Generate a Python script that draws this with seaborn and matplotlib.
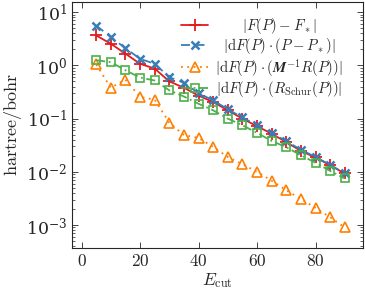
import numpy as np
import pandas as pd
import matplotlib
matplotlib.use("Agg")
import matplotlib.pyplot as plt
import seaborn as sns

sns.set_theme(style="ticks")
plt.rcParams['font.family'] = ['DejaVu Serif']
plt.rcParams['mathtext.fontset'] = 'cm'

# data
ecut = [5, 10, 15, 20, 25, 30, 35, 40, 45, 50, 55, 60, 65, 70, 75, 80, 85, 90]
err_energy = [3.65, 2.55, 1.66, 1.07, 0.87, 0.50, 0.38, 0.27, 0.205, 0.143, 0.100,
              0.072, 0.052, 0.036, 0.0247, 0.0186, 0.0133, 0.0093]
err_exact = [5.6, 3.4, 2.1, 1.33, 1.07, 0.60, 0.47, 0.30, 0.22, 0.15, 0.105,
             0.075, 0.054, 0.0376, 0.026, 0.019, 0.0135, 0.0093]
err_precond = [1.04, 0.38, 0.54, 0.255, 0.227, 0.084, 0.049, 0.0435, 0.0294, 0.019,
               0.0139, 0.0100, 0.0068, 0.0045, 0.0031, 0.0021, 0.0014, 0.0009]
err_schur = [1.25, 1.15, 0.81, 0.59, 0.52, 0.34, 0.26, 0.19, 0.143, 0.100,
             0.075, 0.054, 0.038, 0.029, 0.0205, 0.0148, 0.0104, 0.0075]

labels = [r'$|F(P) - F_*|$',
          r'$|\mathrm{d}F(P)\cdot(P - P_*)|$',
          r'$|\mathrm{d}F(P)\cdot(\boldsymbol{M}^{-1}R(P))|$',
          r'$|\mathrm{d}F(P)\cdot(R_{\mathrm{Schur}}(P))|$']
colors = ['#e41a1c', '#377eb8', '#ff7f00', '#4daf4a']
styles = [dict(ls='-', marker='+', ms=8, mew=1.3),
          dict(ls=(0, (5, 3)), marker='x', ms=6, mew=1.8),
          dict(ls=(0, (1, 2.5)), marker='^', ms=7, mew=1.2, mfc='none'),
          dict(ls=(0, (5, 2, 1, 2)), marker='s', ms=6, mew=1.2, mfc='none')]
series = [err_energy, err_exact, err_precond, err_schur]

fig = plt.figure(figsize=(3.65, 2.91), dpi=100)
ax = fig.add_axes([0.197, 0.148, 0.798, 0.845])

for vals, lab, col, st in zip(series, labels, colors, styles):
    sns.lineplot(x=ecut, y=vals, ax=ax, color=col, label=lab, lw=1.3,
                 mec=col, **st)

ax.set_yscale('log')
ax.set_xlim(-3.3, 96.3)
ax.set_ylim(10**-3.43, 10**1.19)
ax.set_xticks([0, 20, 40, 60, 80])
ax.set_xticklabels([f'${t}$' for t in [0, 20, 40, 60, 80]])
ax.set_xlabel(r'$E_{\mathrm{cut}}$', fontsize=12.5, labelpad=1)
ax.set_ylabel(r'$\mathrm{hartree/bohr}$', fontsize=13, labelpad=1)
ax.tick_params(which='both', direction='in', top=True, right=True, labelsize=12.5)
ax.tick_params(which='major', length=4, width=0.6)
ax.tick_params(which='minor', length=2, width=0.5)
for s in ax.spines.values():
    s.set_linewidth(0.8)

leg = ax.legend(loc='upper right', bbox_to_anchor=(0.965, 0.985), frameon=False,
                fontsize=10.6, handlelength=1.8, labelspacing=0.02,
                borderaxespad=0.3, handletextpad=0.5)

# centre the legend labels like pgfplots does
fig.canvas.draw()
widths = [t.get_window_extent().width for t in leg.get_texts()]
wmax = max(widths)
for t, w in zip(leg.get_texts(), widths):
    t.set_x((wmax - w) / 2)

fig.savefig('out.png', dpi=100)
